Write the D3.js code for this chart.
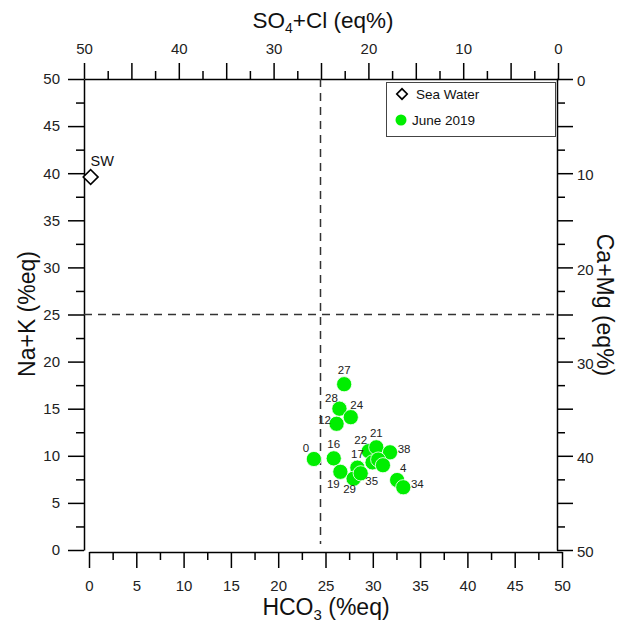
<!DOCTYPE html>
<html>
<head>
<meta charset="utf-8">
<script src="https://cdn.jsdelivr.net/npm/d3@7"></script>
<style>
  body { margin: 0; background: #fff; }
  text { font-family: "Liberation Sans", Arial, sans-serif; }
</style>
</head>
<body>
<svg id="chart" width="622" height="625"></svg>
<script>
// ---- data ----
const sampleIds   = ["27","28","24","12","0","16","17","19","29","35","22","21","38","","","","4","34"];
const hco3Values  = [27.5,27.0,28.2,26.7,24.3,26.4,28.9,27.1,28.5,29.25,30.1,30.9,32.35,30.5,31.1,31.6,33.1,33.75];
const naKValues   = [17.6,15.0,14.1,13.4,9.66,9.73,8.74,8.3,7.57,8.14,10.5,10.9,10.37,9.3,9.6,9.0,7.43,6.66];
const labelSides  = ["n","nw","ne","w","nw","n","n","sw","s","se","nw","n","e","","","","ne","e"];
const seaWater    = { name: "SW", hco3: 0.7, naK: 39.6 };
const legendNames = ["Sea Water", "June 2019"];
const bottomTicks = d3.range(0, 50.001, 2.5);
const leftTicks   = d3.range(0, 50.001, 2.5);
const topTicks    = d3.range(0, 50.001, 2.5);
const rightTicks  = d3.range(0, 50.001, 2.5);
const dividerX = 25, dividerY = 25;

// ---- layout ----
const svg = d3.select("#chart");
const x  = d3.scaleLinear().domain([0, 50]).range([84, 557]);
const y  = d3.scaleLinear().domain([0, 50]).range([550, 79]);
const xB = d3.scaleLinear().domain([0, 50]).range([89, 562]);
const xT = d3.scaleLinear().domain([50, 0]).range([84, 558]);
const yR = d3.scaleLinear().domain([0, 50]).range([79, 550]);

const isMajor = d => Math.abs(d % 5) < 1e-6;
const isTen = d => Math.abs(d % 10) < 1e-6;

function styleAxis(g) {
  g.select(".domain").attr("stroke", "#000").attr("stroke-width", 1.5);
  g.selectAll(".tick line").attr("stroke", "#000").attr("stroke-width", 1.5);
  g.selectAll(".tick text").attr("fill", "#222").style("font-size", "15px")
    .style("font-family", '"Liberation Sans", Arial, sans-serif');
}

// left axis
const gL = svg.append("g").attr("transform", "translate(84,0)")
  .call(d3.axisLeft(y).tickValues(leftTicks).tickSize(16).tickSizeOuter(0).tickPadding(8)
    .tickFormat(d => isMajor(d) ? d3.format("d")(d) : ""));
gL.selectAll(".tick line").attr("x2", d => isMajor(d) ? -16 : -8);
styleAxis(gL);

// right axis
const gR = svg.append("g").attr("transform", "translate(557,0)")
  .call(d3.axisRight(yR).tickValues(rightTicks).tickSize(16).tickSizeOuter(0).tickPadding(4)
    .tickFormat(d => isTen(d) ? d3.format("d")(d) : ""));
gR.selectAll(".tick line").attr("x2", d => isMajor(d) ? 16 : 8);
styleAxis(gR);
gR.selectAll(".tick text").attr("dy", "0.45em");

// top axis
const gT = svg.append("g").attr("transform", "translate(0,79)")
  .call(d3.axisTop(xT).tickValues(topTicks).tickSize(16).tickSizeOuter(0).tickPadding(9)
    .tickFormat(d => isTen(d) ? d3.format("d")(d) : ""));
gT.selectAll(".tick line").attr("y2", d => isMajor(d) ? -16 : -8);
styleAxis(gT);

// bottom axis
const gB = svg.append("g").attr("transform", "translate(0,552)")
  .call(d3.axisBottom(xB).tickValues(bottomTicks).tickSize(16).tickSizeOuter(0).tickPadding(12)
    .tickFormat(d => isMajor(d) ? d3.format("d")(d) : ""));
gB.selectAll(".tick line").attr("y2", d => isMajor(d) ? 16 : 8);
styleAxis(gB);

// divider dashed lines
svg.append("line")
  .attr("x1", x(dividerX)).attr("x2", x(dividerX))
  .attr("y1", y(50)).attr("y2", y(0) - 6)
  .attr("stroke", "#333").attr("stroke-width", 1.5).attr("stroke-dasharray", "8,6");
svg.append("line")
  .attr("x1", x(0)).attr("x2", x(50))
  .attr("y1", y(dividerY)).attr("y2", y(dividerY))
  .attr("stroke", "#333").attr("stroke-width", 1.5).attr("stroke-dasharray", "8,6");

// axis titles
const tTop = svg.append("text").attr("x", 323).attr("y", 28).attr("text-anchor", "middle")
  .style("font-size", "22.5px").attr("fill", "#111");
tTop.append("tspan").text("SO");
tTop.append("tspan").text("4").style("font-size", "14px").attr("dy", 5);
tTop.append("tspan").text("+Cl (eq%)").attr("dy", -5);

const tBot = svg.append("text").attr("x", 326).attr("y", 615).attr("text-anchor", "middle")
  .style("font-size", "23px").attr("fill", "#111");
tBot.append("tspan").text("HCO");
tBot.append("tspan").text("3").style("font-size", "15px").attr("dy", 5);
tBot.append("tspan").text(" (%eq)").attr("dy", -5);

svg.append("text").attr("transform", "translate(35,314) rotate(-90)")
  .attr("text-anchor", "middle").style("font-size", "23px").attr("fill", "#111")
  .text("Na+K (%eq)");
svg.append("text").attr("transform", "translate(597,305) rotate(90)")
  .attr("text-anchor", "middle").style("font-size", "23px").attr("fill", "#111")
  .text("Ca+Mg (eq%)");

// sea water diamond
svg.append("path")
  .attr("d", d3.symbol().type(d3.symbolSquare).size(110)())
  .attr("transform", `translate(${x(seaWater.hco3)},${y(seaWater.naK)}) rotate(45)`)
  .attr("fill", "#fff").attr("stroke", "#000").attr("stroke-width", 1.6);
svg.append("text").attr("x", x(seaWater.hco3)).attr("y", y(seaWater.naK) - 11)
  .style("font-size", "14.5px").attr("fill", "#111").text(seaWater.name);

// samples
const samples = sampleIds.map((id, i) => ({ id, hco3: hco3Values[i], naK: naKValues[i], side: labelSides[i] }));
svg.append("g").selectAll("circle").data(samples).join("circle")
  .attr("cx", d => x(d.hco3)).attr("cy", d => y(d.naK)).attr("r", 7.6)
  .attr("fill", "#00ee00").attr("stroke", "#fff").attr("stroke-width", 0.8);

const off = { n: [0, -14], nw: [-8, -11], ne: [6, -12], w: [-12, -4], sw: [-7, 12], s: [-4, 10], se: [11, 8], e: [14, -3] };
svg.append("g").selectAll("text").data(samples.filter(d => d.id !== "")).join("text")
  .attr("x", d => x(d.hco3) + off[d.side][0]).attr("y", d => y(d.naK) + off[d.side][1])
  .attr("text-anchor", "middle").attr("dominant-baseline", "central")
  .style("font-size", "11.5px").attr("fill", "#222").text(d => d.id);

// legend
const lg = svg.append("g");
lg.append("rect").attr("x", 386.5).attr("y", 82.5).attr("width", 169).attr("height", 54)
  .attr("fill", "#fff").attr("stroke", "#444").attr("stroke-width", 1);
lg.append("path").attr("d", d3.symbol().type(d3.symbolSquare).size(55)())
  .attr("transform", "translate(402,94) rotate(45)")
  .attr("fill", "#fff").attr("stroke", "#000").attr("stroke-width", 1.6);
lg.append("circle").attr("cx", 401).attr("cy", 120).attr("r", 5.5).attr("fill", "#00ee00");
lg.append("text").attr("x", 416).attr("y", 94).attr("dominant-baseline", "central")
  .style("font-size", "13.5px").attr("fill", "#111").text(legendNames[0]);
lg.append("text").attr("x", 412).attr("y", 120).attr("dominant-baseline", "central")
  .style("font-size", "13.5px").attr("fill", "#111").text(legendNames[1]);
</script>
</body>
</html>
